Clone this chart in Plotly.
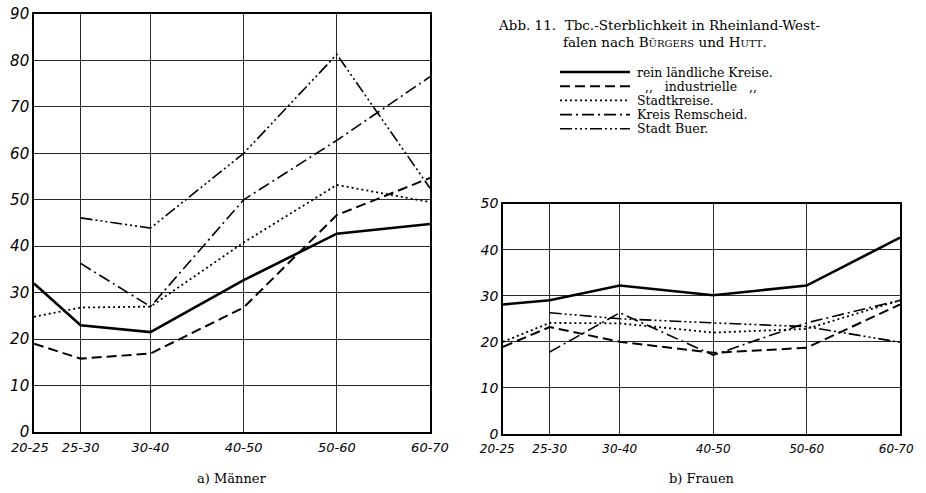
import plotly.graph_objects as go

# ---------------- data ----------------
categories = ["20-25", "25-30", "30-40", "40-50", "50-60", "60-70"]
age_mid = [22.5, 27.5, 35, 45, 55, 65]

series_names = ["rein ländliche Kreise.", "\u00a0\u00a0,,\u00a0\u00a0\u00a0industrielle\u00a0\u00a0\u00a0,,",
                "Stadtkreise.", "Kreis Remscheid.", "Stadt Buer."]

maenner_laendlich = [32, 23, 21.5, 32.7, 42.7, 44.8]
maenner_industriell = [19, 15.8, 16.9, 26.8, 46.7, 54.7]
maenner_stadtkreise = [24.8, 26.8, 27, 40.8, 53.2, 49.5]
maenner_remscheid = [None, 36.3, 27, 50, 62.8, 76.5]
maenner_buer = [None, 46.1, 43.9, 60, 81.3, 52.5]

frauen_laendlich = [28.1, 29, 32.2, 30.1, 32.2, 42.6]
frauen_industriell = [18.9, 23.2, 20, 17.6, 18.7, 28.1]
frauen_stadtkreise = [20, 24.1, 24, 22, 22.8, 29]
frauen_remscheid = [None, 17.8, 26.3, 17.1, 24.1, 29]
frauen_buer = [None, 26.3, 25, 24.1, 23.3, 19.9]

y_ticks_m = [0, 10, 20, 30, 40, 50, 60, 70, 80, 90]
y_ticks_f = [0, 10, 20, 30, 40, 50]

# ---------------- styles ----------------
styles = [
    dict(width=2.6, dash="solid"),
    dict(width=2.0, dash="10px,5px"),
    dict(width=1.8, dash="2px,3px"),
    dict(width=1.6, dash="12px,4px,2px,4px"),
    dict(width=1.6, dash="12px,3px,2px,3px,2px,3px,2px,3px"),
]

# page body margin is removed (post_script), so the figure fills the 926x493 window
W, H = 926, 493
def px_x(p): return p / W
def px_y(p): return 1 - p / H

NB = "\u00a0"
tick_text_l = [categories[0] + NB * 2] + categories[1:]
tick_text_r = [categories[0] + NB * 3] + categories[1:-1] + [categories[-1] + NB * 2]

fig = go.Figure()

m_series = [maenner_laendlich, maenner_industriell, maenner_stadtkreise, maenner_remscheid, maenner_buer]
f_series = [frauen_laendlich, frauen_industriell, frauen_stadtkreise, frauen_remscheid, frauen_buer]

for name, vals, st in zip(series_names, m_series, styles):
    fig.add_trace(go.Scatter(x=age_mid, y=vals, mode="lines", name=name.strip(),
                             line=dict(color="black", width=st["width"], dash=st["dash"]),
                             showlegend=False, xaxis="x", yaxis="y", hoverinfo="skip"))
for name, vals, st in zip(series_names, f_series, styles):
    fig.add_trace(go.Scatter(x=age_mid, y=vals, mode="lines", name=name.strip(),
                             line=dict(color="black", width=st["width"], dash=st["dash"]),
                             showlegend=False, xaxis="x2", yaxis="y2", hoverinfo="skip"))

tick_font_l = dict(family="DejaVu Sans", size=15, color="black", style="italic")
tick_font_lx = dict(family="DejaVu Sans", size=13, color="black", style="italic")
tick_font_r = dict(family="DejaVu Sans", size=14, color="black", style="italic")
tick_font_rx = dict(family="DejaVu Sans", size=12, color="black", style="italic")

common = dict(showline=True, mirror=True, linecolor="black", linewidth=1.6,
              showgrid=True, gridcolor="#2a2a2a", gridwidth=1, zeroline=False,
              ticks="", fixedrange=True, automargin=False, ticklabeloverflow="allow")

fig.update_layout(
    template="none",
    width=W, height=H, margin=dict(l=0, r=0, t=0, b=0, autoexpand=False),
    paper_bgcolor="white", plot_bgcolor="white",
    xaxis=dict(domain=[px_x(34), px_x(430)], range=[22.5, 65], tickmode="array",
               tickvals=age_mid, ticktext=tick_text_l, tickfont=tick_font_lx,
               ticklabelstandoff=3, anchor="y", **common),
    yaxis=dict(domain=[px_y(432), px_y(14)], range=[0, 90], tickmode="array",
               tickvals=y_ticks_m, ticktext=[str(v) for v in y_ticks_m], tickfont=tick_font_l,
               anchor="x", **common),
    xaxis2=dict(domain=[px_x(503), px_x(900)], range=[22.5, 65], tickmode="array",
                tickvals=age_mid, ticktext=tick_text_r, tickfont=tick_font_rx,
                ticklabelstandoff=3, anchor="y2", **common),
    yaxis2=dict(domain=[px_y(434), px_y(203.5)], range=[0, 50], tickmode="array",
                tickvals=y_ticks_f, ticktext=[str(v) for v in y_ticks_f], tickfont=tick_font_r,
                anchor="x2", **common),
)

serif = "DejaVu Serif"
sc = "<span style='font-size:10px'>"
annotations = [
    dict(text="Abb. 11.  Tbc.-Sterblichkeit in Rheinland-West-", x=px_x(497), y=px_y(25),
         xanchor="left", yanchor="middle", showarrow=False, xref="paper", yref="paper",
         borderpad=0, font=dict(family=serif, size=13.5, color="black")),
    dict(text="falen nach B" + sc + "ÜRGERS</span> und H" + sc + "UTT</span>.", x=px_x(562), y=px_y(42),
         xanchor="left", yanchor="middle", showarrow=False, xref="paper", yref="paper",
         borderpad=0, font=dict(family=serif, size=13.5, color="black")),
    dict(text="a) Männer", x=px_x(231), y=px_y(478), xanchor="center", yanchor="middle",
         showarrow=False, xref="paper", yref="paper",
         font=dict(family=serif, size=13, color="black")),
    dict(text="b) Frauen", x=px_x(702), y=px_y(478), xanchor="center", yanchor="middle",
         showarrow=False, xref="paper", yref="paper",
         font=dict(family=serif, size=13, color="black")),
]

# custom legend (key samples + labels)
legend_rows = [72, 86.2, 100.4, 114.6, 128.8]
shapes = []
for name, st, ry in zip(series_names, styles, legend_rows):
    shapes.append(dict(type="line", xref="paper", yref="paper",
                       x0=px_x(560), x1=px_x(630), y0=px_y(ry), y1=px_y(ry),
                       line=dict(color="black", width=st["width"], dash=st["dash"])))
    annotations.append(dict(text=name, x=px_x(636), y=px_y(ry), xanchor="left", yanchor="middle",
                            showarrow=False, xref="paper", yref="paper", borderpad=0,
                            font=dict(family=serif, size=12.5, color="black")))

fig.update_layout(annotations=annotations, shapes=shapes)

fig.write_html("out.html", config={"displayModeBar": False},
               post_script="document.body.style.margin='0';document.body.style.overflow='hidden';")
